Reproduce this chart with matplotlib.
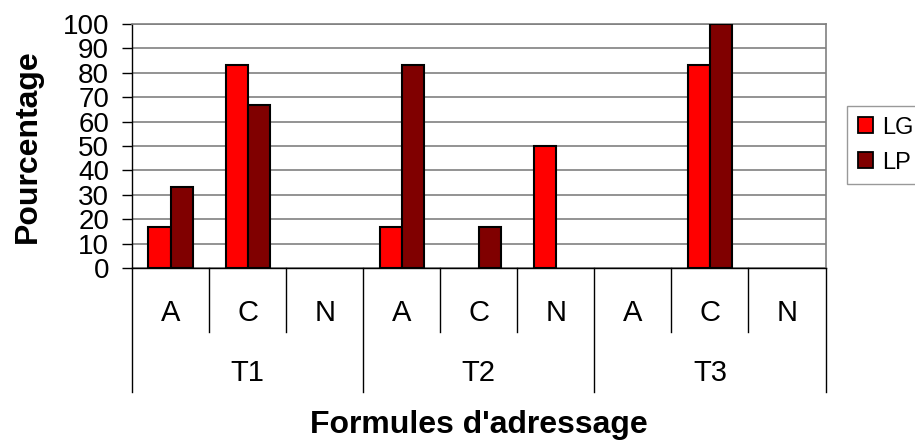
import numpy as np
import matplotlib.pyplot as plt
from matplotlib.patches import Patch

plt.rcParams['font.family'] = ['Liberation Sans', 'DejaVu Sans']

# data
groups = ['T1', 'T2', 'T3']
formules = ['A', 'C', 'N']
lg = [16.67, 83.33, 0, 16.67, 0, 50, 0, 83.33, 0]
lp = [33.33, 66.67, 0, 83.33, 16.67, 0, 0, 100, 0]
series = ['LG', 'LP']
colors = ['#FF0000', '#800000']

fig = plt.figure(figsize=(9.15, 4.41), dpi=100)
ax = fig.add_axes([132/915, 1 - 268/441, (825.5-132)/915, (268-24)/441])

x = np.arange(len(lg))
w = 0.286
# zero-height bars are not drawn in the original, so no edge for them
lw_lg = [1.5 if v > 0 else 0 for v in lg]
lw_lp = [1.5 if v > 0 else 0 for v in lp]
ax.bar(x - w/2, lg, w, color=colors[0], edgecolor='black', linewidth=lw_lg, zorder=3)
ax.bar(x + w/2, lp, w, color=colors[1], edgecolor='black', linewidth=lw_lp, zorder=3)

ax.set_xlim(-0.5, len(lg) - 0.5)
ax.set_ylim(0, 100)
ax.set_yticks(range(0, 101, 10))
ax.tick_params(axis='y', length=7.5, width=1, labelsize=20, pad=9)
ax.set_xticks([])
ax.yaxis.grid(True, color='#808080', linewidth=1.2)
ax.set_axisbelow(True)
for s in ['top', 'right']:
    ax.spines[s].set_color('#808080')
    ax.spines[s].set_linewidth(1.2)
ax.spines['left'].set_linewidth(1)
ax.spines['bottom'].set_linewidth(1)

# multi-level category axis
tr = ax.get_xaxis_transform()
for i in range(len(lg) + 1):
    xp = i - 0.5
    y1 = -0.508 if i % 3 == 0 else -0.262
    ax.plot([xp, xp], [0, y1], color='black', lw=1, transform=tr, clip_on=False)
for i in range(len(lg)):
    ax.text(i, -0.184, formules[i % 3], transform=tr, ha='center', va='center', fontsize=21)
for g, name in enumerate(groups):
    ax.text(g*3 + 1, -0.43, name, transform=tr, ha='center', va='center', fontsize=21)

ax.set_ylabel('Pourcentage', fontsize=23, fontweight='bold', labelpad=14)
fig.text(479/915, 1 - 425/441, "Formules d'adressage", ha='center', va='center',
         fontsize=23, fontweight='bold')

handles = [Patch(facecolor=c, edgecolor='black', linewidth=1.3) for c in colors]
leg = fig.legend(handles, series, loc='upper left', bbox_to_anchor=(847/915, 1 - 106/441),
                 fontsize=17, frameon=True, fancybox=False, edgecolor='#808080',
                 handlelength=0.65, handleheight=0.65, handletextpad=0.4,
                 labelspacing=0.55, borderpad=0.45, borderaxespad=0)
leg.get_frame().set_linewidth(1)

fig.savefig('out.png', dpi=100)
